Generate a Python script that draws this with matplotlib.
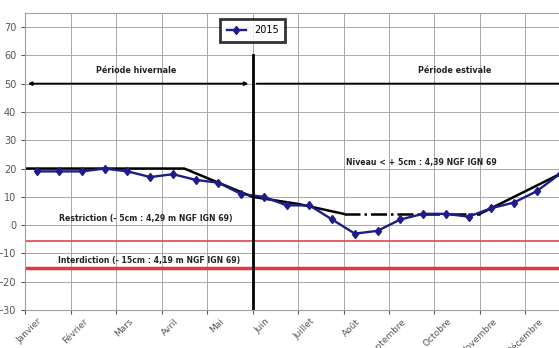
import matplotlib.pyplot as plt

# Mois (axe x) et relevés 2015 (deux par mois)
mois = ["Janvier", "Février", "Mars", "Avril", "Mai", "Juin", "Juillet",
        "Août", "Septembre", "Octobre", "Novembre", "Décembre"]
x_releves = [0.25, 0.75, 1.25, 1.75, 2.25, 2.75, 3.25, 3.75, 4.25, 4.75, 5.25, 5.75,
             6.25, 6.75, 7.25, 7.75, 8.25, 8.75, 9.25, 9.75, 10.25, 10.75, 11.25, 11.75]
niveaux_2015 = [19, 19, 19, 20, 19, 17, 18, 16, 15, 11, 10, 7,
                7, 2, -3, -2, 2, 4, 4, 3, 6, 8, 12, 18]

# Courbe de référence (noire)
x_ref = [0, 3.5, 5, 6, 7]
y_ref = [20, 20, 10, 7.5, 4]
x_ref_pointille = [7, 10]
y_ref_pointille = [4, 4]
x_ref_fin = [10, 12]
y_ref_fin = [4, 20]

seuil_restriction = -5.5
seuil_interdiction = -15

fig = plt.figure(figsize=(5.59, 3.48), dpi=100)
ax = fig.add_axes([0.045, 0.109, 0.96, 0.854])

ax.set_xlim(0, 11.8)
ax.set_ylim(-30, 75)
ax.set_xticks(range(12))
ax.set_xticklabels([])
# étiquettes des mois décalées vers la droite (style Excel)
for i, m in enumerate(mois):
    ax.annotate(m, xy=(i, 0), xycoords=("data", "axes fraction"),
                xytext=(9, -5), textcoords="offset points",
                rotation=45, ha="right", va="top", rotation_mode="anchor",
                fontsize=6.5, color="#555555", annotation_clip=False)
ax.set_yticks(range(-30, 71, 10))
ax.tick_params(axis="y", labelsize=7, colors="#555555", length=3)
ax.tick_params(axis="x", length=3, colors="#555555")
ax.grid(True, color="#a8a8a8", linewidth=0.7)
ax.set_axisbelow(True)
for s in ax.spines.values():
    s.set_color("#a0a0a0")

# Seuils
ax.axhline(seuil_restriction, color="#e8434a", linewidth=1.2)
ax.axhline(seuil_interdiction, color="#e8343a", linewidth=2.5)

# Courbe de référence
ax.plot(x_ref, y_ref, color="black", linewidth=1.8)
ax.plot(x_ref_pointille, y_ref_pointille, color="black", linewidth=1.8, linestyle="-.")
ax.plot(x_ref_fin, y_ref_fin, color="black", linewidth=1.8)

# Relevés 2015
ax.plot(x_releves, niveaux_2015, color="#1c1c8a", linewidth=1.7, marker="d",
        markersize=4.5, label="2015")

# Séparation des périodes
ax.plot([5, 5], [-30, 60], color="black", linewidth=2)
ax.annotate("", xy=(0, 50), xytext=(4.97, 50),
            arrowprops=dict(arrowstyle="<|-|>", color="black", lw=1.3, mutation_scale=5))
ax.annotate("", xy=(5.03, 50), xytext=(12.2, 50),
            arrowprops=dict(arrowstyle="<|-", color="black", lw=1.3, mutation_scale=5))
ax.text(2.45, 54.5, "Période hivernale", fontsize=5.8, fontweight="bold",
        ha="center", va="center", color="#222222")
ax.text(9.45, 54.5, "Période estivale", fontsize=5.8, fontweight="bold",
        ha="center", va="center", color="#222222")

ax.text(8.72, 22, "Niveau < + 5cm : 4,39 NGF IGN 69", fontsize=5.6, fontweight="bold",
        ha="center", va="center", color="#222222")
ax.text(2.65, 2.5, "Restriction (- 5cm : 4,29 m NGF IGN 69)", fontsize=5.6,
        fontweight="bold", ha="center", va="center", color="#222222")
ax.text(2.72, -12.5, "Interdiction (- 15cm : 4,19 m NGF IGN 69)", fontsize=5.6,
        fontweight="bold", ha="center", va="center", color="#222222")

leg = ax.legend(loc="center", bbox_to_anchor=(5.0, 68.8), bbox_transform=ax.transData,
                fontsize=7, frameon=True, fancybox=False, handlelength=2,
                borderpad=0.7, borderaxespad=0)
leg.get_frame().set_edgecolor("black")
leg.get_frame().set_linewidth(2)

fig.savefig("out.png", dpi=100)
